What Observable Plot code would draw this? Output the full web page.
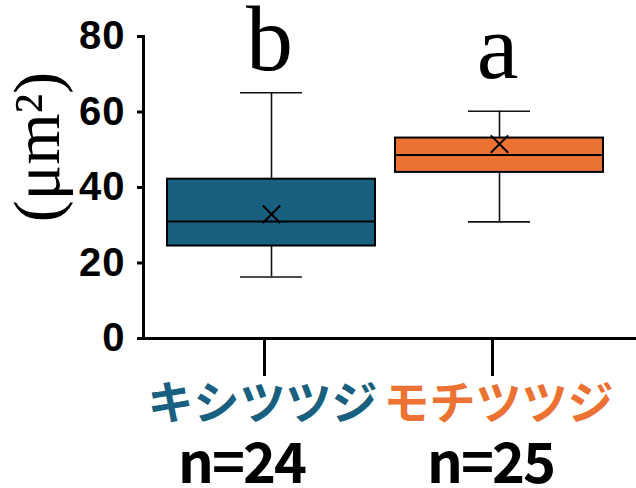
<!DOCTYPE html>
<html>
<head>
<meta charset="utf-8">
<script src="https://cdn.jsdelivr.net/npm/d3@7"></script>
<script src="https://cdn.jsdelivr.net/npm/@observablehq/plot@0.6"></script>
<style>
  html, body { margin: 0; padding: 0; background: #fff; }
  #chart svg { display: block; }
</style>
</head>
<body>
<div id="chart"></div>
<script>
const categories = ["キシツツジ", "モチツツジ"];
const sampleSizes = ["n=24", "n=25"];
const letters = ["b", "a"];
const whiskerLow = [16.3, 30.9];
const q1 = [24.5, 44.0];
const median = [31.0, 48.6];
const q3 = [42.2, 53.1];
const whiskerHigh = [65.1, 60.2];
const mean = [32.9, 51.5];
const colors = ["#185f80", "#eb7233"];
const yTicks = [0, 20, 40, 60, 80];

const rows = categories.map((c, i) => ({
  cat: c, n: sampleSizes[i], letter: letters[i],
  lo: whiskerLow[i], q1: q1[i], med: median[i], q3: q3[i], hi: whiskerHigh[i],
  mean: mean[i], color: colors[i], i
}));

const catDx = [-9, -1];
const nDx = [-30, -9];
const letterDy = [-23, -33];

const chart = Plot.plot({
  width: 636,
  height: 488,
  marginLeft: 143,
  marginRight: 0,
  marginTop: 36,
  marginBottom: 150,
  style: { background: "#fff", overflow: "visible" },
  x: { domain: categories, range: [167, 603], paddingInner: 0.088, paddingOuter: 0, axis: null, label: null },
  y: { domain: [0, 80], axis: null, label: null },
  color: { type: "identity" },
  marks: [
    // whiskers
    Plot.ruleX(rows, { x: "cat", y1: "lo", y2: "q1", stroke: "#111", strokeWidth: 1.6 }),
    Plot.ruleX(rows, { x: "cat", y1: "q3", y2: "hi", stroke: "#111", strokeWidth: 1.6 }),
    Plot.tickY(rows, { x: "cat", y: "lo", stroke: "#111", strokeWidth: 1.6, insetLeft: 73, insetRight: 73 }),
    Plot.tickY(rows, { x: "cat", y: "hi", stroke: "#111", strokeWidth: 1.6, insetLeft: 73, insetRight: 73 }),
    // boxes
    Plot.barY(rows, { x: "cat", y1: "q1", y2: "q3", fill: d => d.color, stroke: "#000", strokeWidth: 2 }),
    Plot.tickY(rows, { x: "cat", y: "med", stroke: "#000", strokeWidth: 2 }),
    Plot.dot(rows, { x: "cat", y: "mean", symbol: "times", r: 8, stroke: "#000", strokeWidth: 2 }),
    // significance letters
    ...rows.map(r => Plot.text([r], { x: "cat", y: "hi", text: "letter", lineAnchor: "bottom", dy: letterDy[r.i], dx: -2,
      fontFamily: "Liberation Serif, Times New Roman, serif", fontSize: 94, fill: "#000" })),
    // y axis: ticks, line and labels
    Plot.axisY({ ticks: yTicks, tickSize: 6, strokeWidth: 3, tickFormat: () => "", label: null }),
    Plot.text(yTicks, { y: d => d, text: d => String(d), frameAnchor: "left", textAnchor: "end", dx: -18,
      fontFamily: "Liberation Sans, Arial, sans-serif", fontWeight: "bold", fontSize: 40, fill: "#000",
      className: "ylab" }),
    Plot.frame({ anchor: "left", stroke: "#000", strokeWidth: 3 }),
    Plot.ruleY([0], { stroke: "#000", strokeWidth: 3, insetLeft: -6 }),
    Plot.axisX({ tickSize: 38, strokeWidth: 3, dx: -7, tickFormat: () => "", label: null }),
    // category labels
    ...rows.map(r => Plot.text([r], { x: "cat", text: "cat", frameAnchor: "bottom", dy: 80, dx: catDx[r.i],
      fill: r.color, fontFamily: "Noto Sans CJK JP", fontWeight: 700, fontSize: 46 })),
    ...rows.map(r => Plot.text([r], { x: "cat", text: "n", frameAnchor: "bottom", dy: 144, dx: nDx[r.i],
      fill: "#000", fontFamily: "Noto Sans CJK JP", fontWeight: 700, fontSize: 56, className: "nlab" }))
  ]
});

const svg = d3.select(chart);
svg.selectAll("g.ylab text").style("letter-spacing", "1px");
svg.selectAll("g.nlab text").style("letter-spacing", "-2px");

// y-axis title
svg.append("text")
  .attr("transform", "translate(36,147) rotate(-90)")
  .attr("text-anchor", "middle")
  .attr("dominant-baseline", "central")
  .attr("font-family", "Liberation Serif, Times New Roman, serif")
  .attr("font-size", 66)
  .attr("fill", "#000")
  .text("(μm²)");

document.getElementById("chart").appendChild(chart);
</script>
</body>
</html>
